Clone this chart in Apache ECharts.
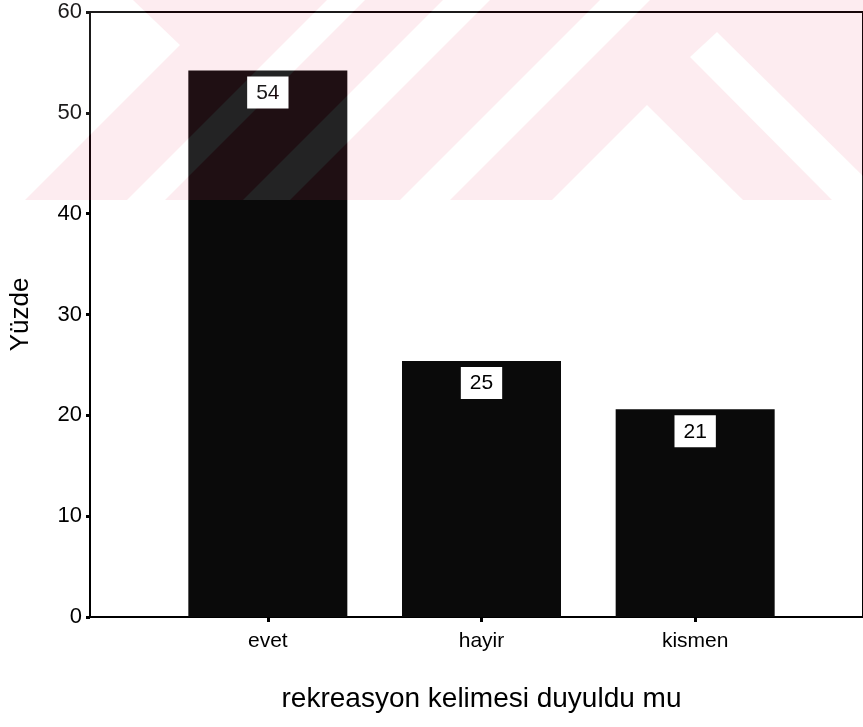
<!DOCTYPE html>
<html><head><meta charset="utf-8">
<script src="https://cdn.jsdelivr.net/npm/echarts@6/dist/echarts.min.js"></script>
<style>html,body{margin:0;padding:0;background:#fff}#c{width:863px;height:727px}</style>
</head><body><div id="c"></div>
<script>
// ---- data ----
const categories = ['evet', 'hayir', 'kismen'];
const percentValues = [54.2, 25.4, 20.6];
const yTickValues = [0, 10, 20, 30, 40, 50, 60];
const xAxisTitle = 'rekreasyon kelimesi duyuldu mu';
const yAxisTitle = 'Yüzde';

// ---- style ----
const FONT = 'Liberation Sans, Arial, Helvetica, sans-serif';
const PINK = '#fdecef';
const BAR = '#0a0a0a';

// decorative watermark (scanned background), pixel geometry
const wmWhite = [
  [[0,0],[133,0],[180,45],[25,200],[0,200]],
  [[327,0],[365,0],[165,200],[127,200]],
  [[443,0],[490,0],[290,200],[243,200]],
  [[600,0],[650,0],[450,200],[400,200]],
  [[552,200],[647,105],[743,200]],
  [[717,32],[863,176],[863,200],[832,200],[690,57]]
];
const graphics = [
  { type: 'rect', z: -100, silent: true, shape: { x: 0, y: 0, width: 863, height: 200 }, style: { fill: PINK } }
];
wmWhite.forEach(p => graphics.push({ type: 'polygon', z: -99, silent: true, shape: { points: p }, style: { fill: '#fff' } }));
graphics.push({ type: 'rect', z: 100, silent: true, shape: { x: 0, y: 0, width: 863, height: 200 }, style: { fill: 'rgb(22,5,9)', blend: 'screen' } });
wmWhite.forEach(p => graphics.push({ type: 'polygon', z: 101, silent: true, shape: { points: p }, style: { fill: 'rgb(5,21,18)', blend: 'screen' } }));

const yMin = yTickValues[0], yMax = yTickValues[yTickValues.length - 1];
const yStep = yTickValues[1] - yTickValues[0];

const chart = echarts.init(document.getElementById('c'), null, { renderer: 'canvas' });
chart.setOption({
  backgroundColor: 'transparent',
  animation: false,
  graphic: { elements: graphics },
  grid: [
    { left: 161, right: 61, top: 12, bottom: 110, containLabel: false },
    { left: 90, right: -6, top: 12, bottom: 110, show: true, borderColor: '#000', borderWidth: 2, backgroundColor: 'transparent', containLabel: false }
  ],
  xAxis: [
    {
      type: 'category', gridIndex: 0, data: categories,
      axisLine: { show: false },
      axisTick: { show: true, alignWithLabel: true, length: 5, lineStyle: { color: '#000', width: 3 } },
      axisLabel: { color: '#000', fontSize: 21, fontFamily: FONT, margin: 14 },
      name: xAxisTitle, nameLocation: 'middle', nameGap: 68,
      nameTextStyle: { color: '#000', fontSize: 28, fontFamily: FONT },
      splitLine: { show: false }
    },
    { type: 'value', gridIndex: 1, min: 0, max: 1, show: false }
  ],
  yAxis: [
    { type: 'value', gridIndex: 0, min: yMin, max: yMax, interval: yStep, show: false },
    {
      type: 'value', gridIndex: 1, min: yMin, max: yMax, interval: yStep,
      axisLine: { show: true, lineStyle: { color: '#000', width: 2 } },
      axisTick: { show: true, length: 4, lineStyle: { color: '#000', width: 3 } },
      axisLabel: { color: '#000', fontSize: 22, fontFamily: FONT, margin: 8 },
      splitLine: { show: false },
      name: yAxisTitle, nameLocation: 'middle', nameGap: 56, nameRotate: 90,
      nameTextStyle: { color: '#000', fontSize: 26, fontFamily: FONT }
    }
  ],
  series: [{
    type: 'bar', xAxisIndex: 0, yAxisIndex: 0,
    data: percentValues, barWidth: 159,
    itemStyle: { color: BAR },
    label: {
      show: true, position: 'insideTop', distance: 6,
      formatter: p => String(Math.round(p.value)),
      color: '#000', fontSize: 21, fontFamily: FONT,
      backgroundColor: '#fff', padding: [6, 9, 5, 9]
    }
  }]
});
</script></body></html>
